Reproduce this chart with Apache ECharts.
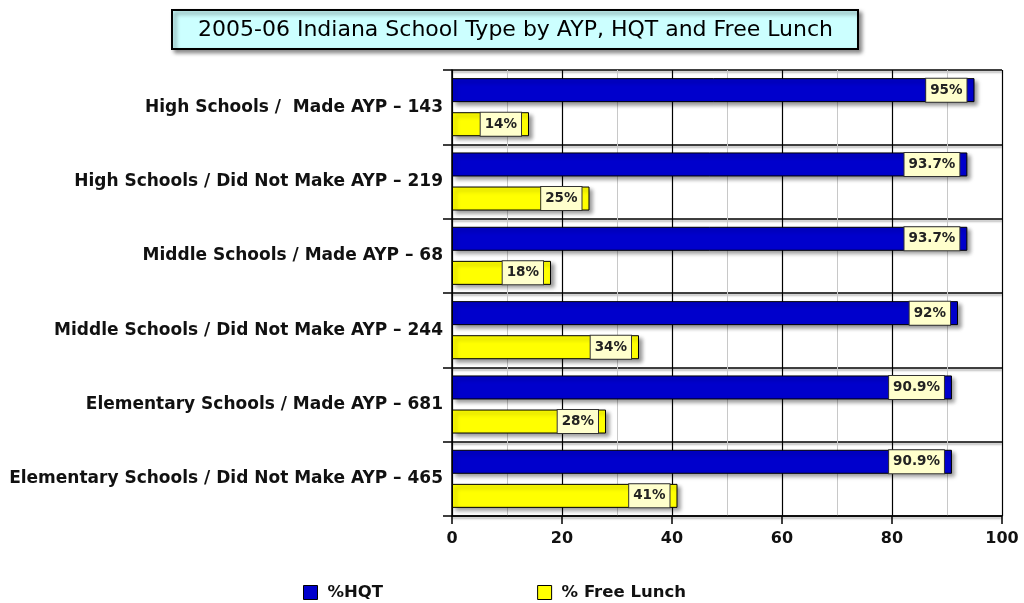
<!DOCTYPE html>
<html lang="en">
<head>
    <meta charset="UTF-8">
    <title>2005-06 Indiana School Type by AYP, HQT and Free Lunch</title>
    <style>
        html, body { margin: 0; padding: 0; background: #fff; }
        #chart { width: 1024px; height: 603px; }
    </style>
    <script src="https://cdn.jsdelivr.net/npm/echarts@6/dist/echarts.min.js"></script>
</head>
<body>
<div id="chart"></div>
<script>
    // categories, top to bottom
    var schoolTypes = [
        'High Schools /  Made AYP \u2013 143',
        'High Schools / Did Not Make AYP \u2013 219',
        'Middle Schools / Made AYP \u2013 68',
        'Middle Schools / Did Not Make AYP \u2013 244',
        'Elementary Schools / Made AYP \u2013 681',
        'Elementary Schools / Did Not Make AYP \u2013 465'
    ];
    // series values (%)
    var hqtValues = [95, 93.7, 93.7, 92, 90.9, 90.9];
    var lunchValues = [14, 25, 18, 34, 28, 41];
    var seriesNames = ['%HQT', '% Free Lunch'];
    var axisTicks = [0, 20, 40, 60, 80, 100];

    var font = 'DejaVu Sans, Verdana, sans-serif';
    var chart = echarts.init(document.getElementById('chart'));

    // label box at the end of each bar
    function barLabel() {
        return {
            show: true,
            position: 'insideRight',
            distance: 8,
            formatter: function (p) { return p.value + '%'; },
            fontFamily: font,
            fontWeight: 'bold',
            fontSize: 13.5,
            color: '#222',
            backgroundColor: '#ffffcc',
            borderColor: '#333',
            borderWidth: 1,
            padding: [5, 4, 4, 4]
        };
    }

    var barShadow = {
        shadowColor: 'rgba(0,0,0,0.4)',
        shadowBlur: 4,
        shadowOffsetX: 3,
        shadowOffsetY: 3
    };

    chart.setOption({
        animation: false,
        title: {
            text: '2005-06 Indiana School Type by AYP, HQT and Free Lunch',
            left: 172,
            top: 10,
            padding: [9, 25, 8, 26],
            backgroundColor: '#ccffff',
            borderColor: '#000',
            borderWidth: 2,
            shadowColor: 'rgba(0,0,0,0.45)',
            shadowBlur: 4,
            shadowOffsetX: 3,
            shadowOffsetY: 3,
            textStyle: {
                fontFamily: font,
                fontWeight: 'normal',
                fontSize: 22,
                color: '#000'
            }
        },
        legend: {
            left: 303,
            top: 584,
            padding: 0,
            itemGap: 154,
            itemWidth: 14,
            itemHeight: 14,
            icon: 'rect',
            data: seriesNames,
            itemStyle: { borderColor: '#000', borderWidth: 1 },
            textStyle: { fontFamily: font, fontWeight: 'bold', fontSize: 16.5, color: '#111', padding: [0, 0, 0, 5] }
        },
        grid: { left: 452, right: 22, top: 70, bottom: 87 },
        xAxis: {
            type: 'value',
            min: axisTicks[0],
            max: axisTicks[axisTicks.length - 1],
            interval: 20,
            axisLine: { show: true, lineStyle: { color: '#000', width: 1.5 } },
            axisTick: { show: true, length: 8, lineStyle: { color: '#000', width: 1.5 } },
            axisLabel: { fontFamily: font, fontWeight: 'bold', fontSize: 16, color: '#111', margin: 15 },
            splitLine: { show: true, lineStyle: { color: '#000', width: 1.2 } },
            minorTick: { show: false, splitNumber: 2 },
            minorSplitLine: { show: true, lineStyle: { color: '#c8c8c8', width: 1 } }
        },
        yAxis: {
            type: 'category',
            inverse: true,
            data: schoolTypes,
            axisLine: { show: true, lineStyle: { color: '#000', width: 1.5 } },
            axisTick: { show: true, length: 9, lineStyle: { color: '#000', width: 1.5 } },
            axisLabel: { fontFamily: font, fontWeight: 'bold', fontSize: 17, color: '#111', margin: 9, padding: [9, 0, 0, 0] },
            splitLine: {
                show: true,
                lineStyle: { color: '#000', width: 1.5, shadowColor: 'rgba(0,0,0,0.35)', shadowBlur: 2, shadowOffsetY: 2 }
            }
        },
        series: [
            {
                name: seriesNames[0],
                type: 'bar',
                data: hqtValues,
                barWidth: 24,
                barGap: '42%',
                itemStyle: Object.assign({ color: '#0000cc', borderColor: '#000', borderWidth: 1 }, barShadow),
                label: barLabel()
            },
            {
                name: seriesNames[1],
                type: 'bar',
                data: lunchValues,
                barWidth: 24,
                itemStyle: Object.assign({ color: '#ffff00', borderColor: '#000', borderWidth: 1 }, barShadow),
                label: barLabel()
            }
        ]
    });
</script>
</body>
</html>
